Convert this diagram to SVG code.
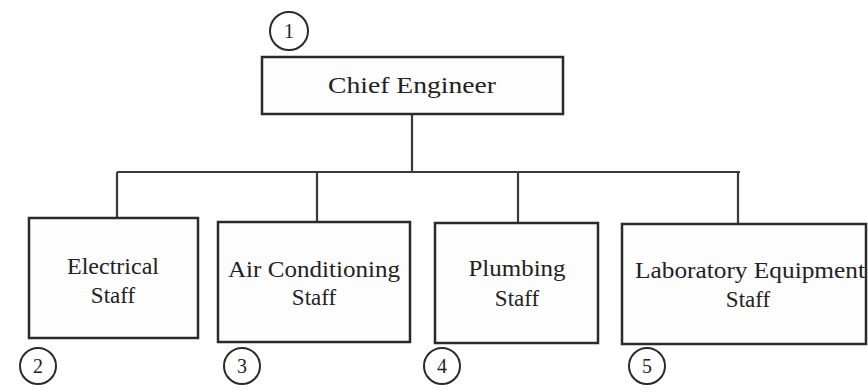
<svg xmlns="http://www.w3.org/2000/svg" width="868" height="392" viewBox="0 0 868 392">
<style>
.box{fill:#fdfdfd;stroke:#2a2a2a;stroke-width:2.5}
.t{font-family:"Liberation Serif","Times New Roman",serif;font-size:23px;fill:#222;text-anchor:middle}
.c{fill:none;stroke:#2a2a2a;stroke-width:2}
.n{font-family:"Liberation Serif","Times New Roman",serif;font-size:20px;fill:#222;text-anchor:middle}
.ln{fill:none;stroke:#3a3a3a;stroke-width:2.2}
</style>
<rect width="868" height="392" fill="#ffffff"/>
<g id="connectors">
<path class="ln" d="M412 114V172M117 172H740M117 172V218M317 172V222M518 172V223M738 172V224"/>
</g>
<g id="chief">
<rect class="box" x="262" y="57" width="301" height="57"/>
<text class="t" x="412" y="93" font-size="25" textLength="168" lengthAdjust="spacingAndGlyphs">Chief Engineer</text>
<circle class="c" cx="289" cy="31" r="19"/>
<text class="n" x="289" y="38">1</text>
</g>
<g id="electrical">
<rect class="box" x="29" y="218" width="169" height="120"/>
<text class="t" x="113" y="274" textLength="92" lengthAdjust="spacingAndGlyphs">Electrical</text>
<text class="t" x="113" y="303">Staff</text>
<circle class="c" cx="38" cy="366" r="18"/>
<text class="n" x="38" y="373">2</text>
</g>
<g id="aircon">
<rect class="box" x="218" y="222" width="192" height="120"/>
<text class="t" x="314" y="277" textLength="172" lengthAdjust="spacingAndGlyphs">Air Conditioning</text>
<text class="t" x="314" y="305">Staff</text>
<circle class="c" cx="242" cy="366" r="18"/>
<text class="n" x="242" y="373">3</text>
</g>
<g id="plumbing">
<rect class="box" x="435" y="223" width="163" height="120"/>
<text class="t" x="517" y="276" textLength="97" lengthAdjust="spacingAndGlyphs">Plumbing</text>
<text class="t" x="517" y="306">Staff</text>
<circle class="c" cx="442" cy="366" r="18"/>
<text class="n" x="442" y="373">4</text>
</g>
<g id="laboratory">
<rect class="box" x="622" y="224" width="244" height="120"/>
<text class="t" x="750" y="278" textLength="230" lengthAdjust="spacingAndGlyphs">Laboratory Equipment</text>
<text class="t" x="748" y="307">Staff</text>
<circle class="c" cx="647" cy="366" r="18"/>
<text class="n" x="647" y="373">5</text>
</g>
</svg>
